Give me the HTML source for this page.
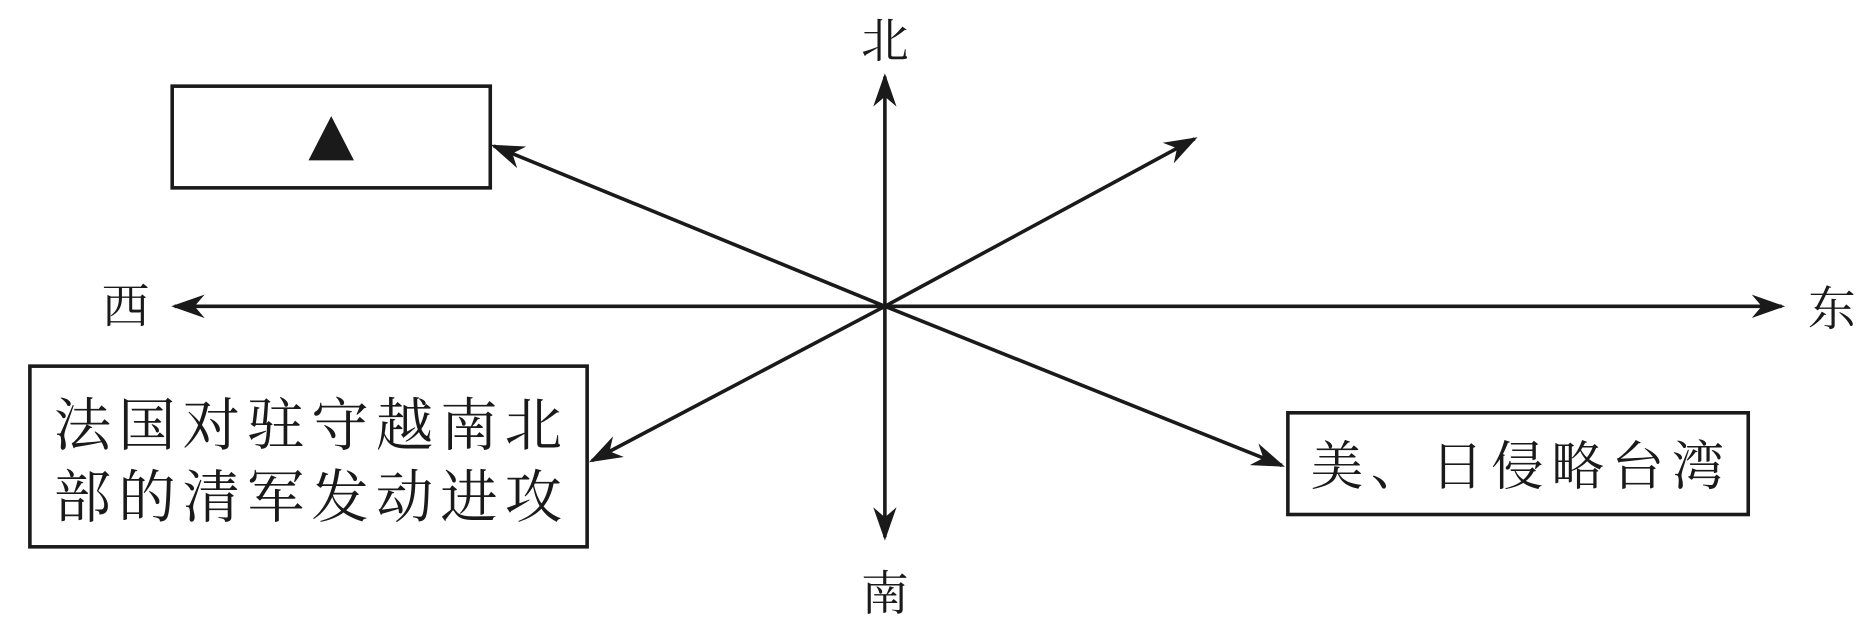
<!DOCTYPE html>
<html><head><meta charset="utf-8"><style>
html,body{margin:0;padding:0;background:#fff;width:1875px;height:621px;overflow:hidden}
svg{display:block}
text{font-family:"Liberation Serif","Noto Serif CJK SC",serif;fill:#1a1a1a}
</style></head><body>
<svg width="1875" height="621" viewBox="0 0 1568 519" preserveAspectRatio="none" xmlns="http://www.w3.org/2000/svg">
<defs>
<marker id="a" viewBox="0 0 20 14" refX="18" refY="7" markerWidth="9.3" markerHeight="6.5" markerUnits="strokeWidth" orient="auto">
<path d="M0,0 L20,7 L0,14 L6,7 Z" fill="#1a1a1a"/>
</marker>
</defs>
<g stroke="#1a1a1a" stroke-width="3" fill="none">
<line x1="740" y1="256" x2="740" y2="64" marker-end="url(#a)"/>
<line x1="740" y1="256" x2="740" y2="449" marker-end="url(#a)"/>
<line x1="740" y1="256" x2="146" y2="256" marker-end="url(#a)"/>
<line x1="740" y1="256" x2="1490" y2="256" marker-end="url(#a)"/>
<line x1="740" y1="256" x2="999" y2="116" marker-end="url(#a)"/>
<line x1="740" y1="256" x2="413" y2="122" marker-end="url(#a)"/>
<line x1="740" y1="256" x2="495" y2="385" marker-end="url(#a)"/>
<line x1="740" y1="256" x2="1072" y2="389" marker-end="url(#a)"/>
<rect x="144" y="72" width="266" height="85"/>
<rect x="25" y="306" width="466" height="151"/>
<rect x="1077" y="345" width="385" height="85"/>
</g>
<polygon points="277,97 258,134 296,134" fill="#1a1a1a"/>
<text x="740" y="48" font-size="40" text-anchor="middle">北</text>
<text x="740" y="510" font-size="40" text-anchor="middle">南</text>
<text x="105" y="270" font-size="40" text-anchor="middle">西</text>
<text x="1532" y="272" font-size="40" text-anchor="middle">东</text>
<text x="45" y="372" font-size="48" textLength="425" lengthAdjust="spacing">法国对驻守越南北</text>
<text x="45" y="432" font-size="48" textLength="425" lengthAdjust="spacing">部的清军发动进攻</text>
<text x="1096" y="405" font-size="44" textLength="346" lengthAdjust="spacing">美、日侵略台湾</text>
</svg>
</body></html>
